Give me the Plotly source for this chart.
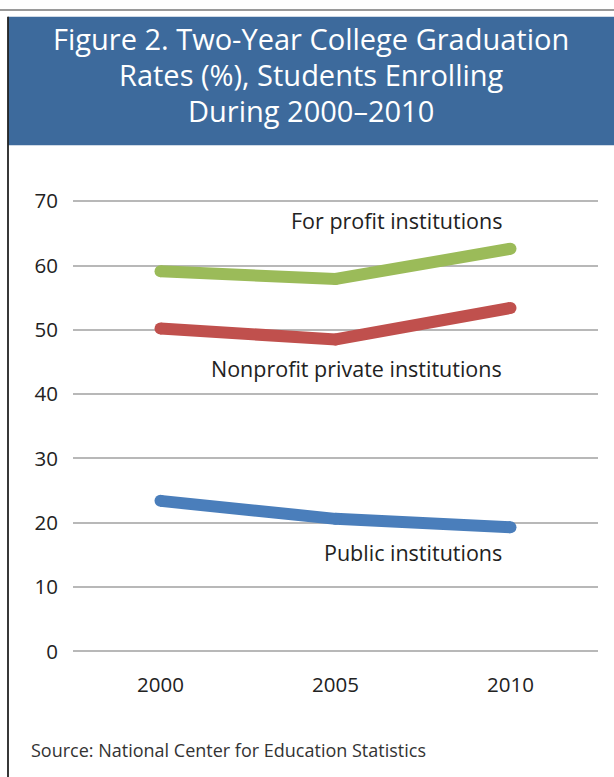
import plotly.graph_objects as go

years = [2000, 2005, 2010]
for_profit = [59.1, 57.9, 62.6]
nonprofit_private = [50.2, 48.5, 53.4]
public = [23.4, 20.6, 19.3]
y_ticks = [0, 10, 20, 30, 40, 50, 60, 70]

title_lines = ["Figure 2. Two-Year College Graduation",
               "Rates (%), Students Enrolling",
               "During 2000\u20132010"]
source_text = "Source: National Center for Education Statistics"

W, H = 614, 777
GREEN = "#9BBB59"
RED = "#C0504D"
BLUE = "#4A7EBB"
HEADER = "#3D6A9C"
LABEL_FONT = "Open Sans, Noto Sans, sans-serif"


def px(x):
    return x / W


def py(y):
    return 1 - y / H


fig = go.Figure()
for vals, col in [(for_profit, GREEN), (nonprofit_private, RED), (public, BLUE)]:
    fig.add_trace(go.Scatter(
        x=years, y=vals, mode="lines+markers",
        line=dict(color=col, width=12),
        marker=dict(color=col, size=12, line=dict(width=0)),
        hoverinfo="skip", showlegend=False))

# y range chosen so 0 -> 656px and 70 -> 197px
Y0_PX, Y70_PX = 656, 197
ppu = (Y0_PX - Y70_PX) / 70.0
y_lo, y_hi = -1.0, 71.0
dom_bottom = py(Y0_PX + ppu * 1.0)
dom_top = py(Y70_PX - ppu * 1.0)

fig.update_layout(
    width=W, height=H,
    margin=dict(l=0, r=0, t=0, b=0),
    paper_bgcolor="white", plot_bgcolor="white",
    xaxis=dict(domain=[px(73), px(598)], range=[1997.5, 2012.5],
               tickvals=years, ticktext=[str(y) for y in years],
               showgrid=False, zeroline=False, showline=False,
               ticks="", ticklabelstandoff=13,
               tickfont=dict(family=LABEL_FONT, size=20.5, color="#222222")),
    yaxis=dict(domain=[dom_bottom, dom_top], range=[y_lo, y_hi],
               tickvals=y_ticks, showgrid=True, gridcolor="#B8B8B8", gridwidth=1.5,
               zeroline=False, showline=False, ticks="", ticklabelstandoff=14,
               tickfont=dict(family=LABEL_FONT, size=20.5, color="#222222")),
    font=dict(family=LABEL_FONT),
)

shapes = [
    # top grey rule
    dict(type="line", xref="paper", yref="paper", x0=0, x1=1, y0=py(2), y1=py(2),
         line=dict(color="#9A9A9A", width=2)),
    # blue header
    dict(type="rect", xref="paper", yref="paper", x0=px(8), x1=1.01, y0=py(140), y1=py(9),
         fillcolor=HEADER, line=dict(width=0), layer="below"),
    # left border
    dict(type="line", xref="paper", yref="paper", x0=px(8), x1=px(8), y0=-0.01, y1=py(9),
         line=dict(color="#222222", width=1.8)),
]
fig.update_layout(shapes=shapes)

annotations = []
for i, line in enumerate(title_lines):
    annotations.append(dict(
        xref="paper", yref="paper", x=px(311), y=py(31 + 37 * i),
        text=line, showarrow=False, xanchor="center", yanchor="middle",
        font=dict(family="Open Sans, sans-serif", size=29, color="white")))

series_labels = [("For profit institutions", 217),
                 ("Nonprofit private institutions", 368),
                 ("Public institutions", 555)]
for text, ypix in series_labels:
    annotations.append(dict(
        xref="paper", yref="paper", x=px(504), y=py(ypix), text=text, showarrow=False,
        xanchor="right", yanchor="middle",
        font=dict(family=LABEL_FONT, size=21.5, color="#222222")))

annotations.append(dict(
    xref="paper", yref="paper", x=px(29), y=py(757), text=source_text, showarrow=False,
    xanchor="left", yanchor="middle",
    font=dict(family=LABEL_FONT, size=18, color="#333333")))

fig.update_layout(annotations=annotations)

fig.write_html("out.html")
